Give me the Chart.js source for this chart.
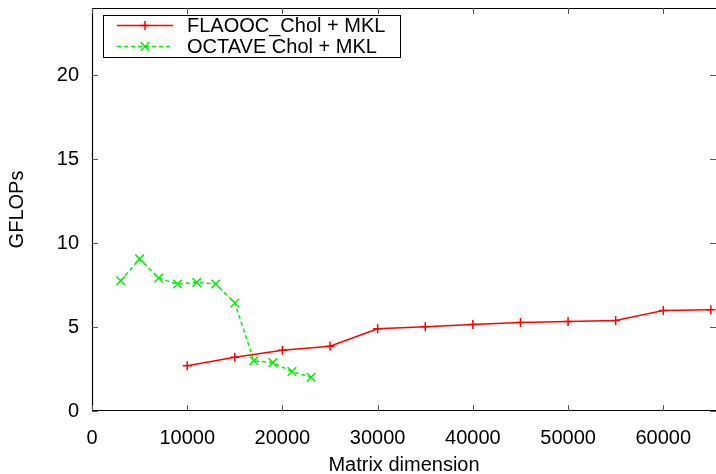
<!DOCTYPE html>
<html>
<head>
<meta charset="utf-8">
<script src="https://cdn.jsdelivr.net/npm/chart.js@4.4.1/dist/chart.umd.min.js"></script>
<style>
  html,body{margin:0;padding:0;background:#fff;}
</style>
</head>
<body>
<canvas id="gflopsChart" width="716" height="474"></canvas>
<script>
// data
const flaoocLabel = "FLAOOC_Chol + MKL";
const flaoocSizes = [10000,15000,20000,25000,30000,35000,40000,45000,50000,55000,60000,65000];
const flaoocGflops = [2.69,3.20,3.62,3.86,4.90,5.01,5.15,5.27,5.33,5.39,5.99,6.03];

const octaveLabel = "OCTAVE Chol + MKL";
const octaveSizes = [3000,5000,7000,9000,11000,13000,15000,17000,19000,21000,23000];
const octaveGflops = [7.76,9.06,7.92,7.56,7.66,7.56,6.43,2.99,2.88,2.35,2.01];

const xTickValues = [0,10000,20000,30000,40000,50000,60000];
const yTickValues = [0,5,10,15,20];

const FONT = "'Liberation Sans', Arial, Helvetica, sans-serif";

// gnuplot style frame: border (right side runs off the canvas) + inward ticks, plus the key
const frame = {
  id: "frame",
  afterDatasetsDraw(chart){
    const {ctx, chartArea:a, scales} = chart;
    ctx.save();
    ctx.strokeStyle = "#000";
    ctx.lineWidth = 1.2;
    ctx.beginPath();
    ctx.moveTo(chart.width, a.top+0.5);
    ctx.lineTo(a.left+0.5, a.top+0.5);
    ctx.lineTo(a.left+0.5, a.bottom-0.5);
    ctx.lineTo(chart.width, a.bottom-0.5);
    ctx.stroke();
    ctx.strokeStyle = "#555";
    ctx.lineWidth = 1;
    ctx.beginPath();
    const len = 6;
    xTickValues.forEach(v => {
      const x = Math.round(scales.x.getPixelForValue(v))+0.5;
      ctx.moveTo(x, a.bottom); ctx.lineTo(x, a.bottom-len);
      ctx.moveTo(x, a.top); ctx.lineTo(x, a.top+len);
    });
    yTickValues.forEach(v => {
      const y = Math.round(scales.y.getPixelForValue(v))+0.5;
      ctx.moveTo(a.left, y); ctx.lineTo(a.left+len, y);
      ctx.moveTo(chart.width, y); ctx.lineTo(chart.width-len, y);
    });
    ctx.stroke();

    // key box
    const bx = 103.5, by = 15.5, bw = 297, bh = 42;
    ctx.fillStyle = "#fff";
    ctx.fillRect(bx, by, bw, bh);
    ctx.strokeStyle = "#000";
    ctx.strokeRect(bx, by, bw, bh);
    chart.data.datasets.forEach((d,i) => {
      const y = by + 10 + i*21;
      ctx.strokeStyle = d.borderColor;
      ctx.lineWidth = d.borderWidth;
      ctx.setLineDash(d.borderDash || []);
      ctx.beginPath();
      ctx.moveTo(117, y); ctx.lineTo(173, y);
      ctx.stroke();
      ctx.setLineDash([]);
      Chart.helpers.drawPoint(ctx, {
        pointStyle: d.pointStyle, radius: d.pointRadius, rotation: 0,
        borderWidth: d.borderWidth
      }, 145, y);
      ctx.fillStyle = "#000";
      ctx.font = "20px " + FONT;
      ctx.textBaseline = "middle";
      ctx.textAlign = "left";
      ctx.fillText(d.label, 187, y + 1);
    });
    ctx.restore();
  }
};

new Chart(document.getElementById("gflopsChart").getContext("2d"), {
  type: "line",
  data: {
    datasets: [
      {
        label: flaoocLabel,
        data: flaoocSizes.map((s,i) => ({x:s, y:flaoocGflops[i]})),
        borderColor: "#ff0000",
        backgroundColor: "#ff0000",
        borderWidth: 1.5,
        pointStyle: "cross",
        pointRadius: 4.5,
        pointBorderColor: "#ff0000",
        tension: 0,
        clip: false
      },
      {
        label: octaveLabel,
        data: octaveSizes.map((s,i) => ({x:s, y:octaveGflops[i]})),
        borderColor: "#00ee00",
        backgroundColor: "#00ee00",
        borderWidth: 1.5,
        borderDash: [4,3],
        pointStyle: "crossRot",
        pointRadius: 6,
        pointBorderColor: "#00ee00",
        tension: 0
      }
    ]
  },
  options: {
    responsive: false,
    animation: false,
    devicePixelRatio: 1,
    layout: {autoPadding: false, padding: {left: 0, right: 0, top: 8, bottom: 0}},
    plugins: {legend: {display: false}, tooltip: {enabled: false}},
    scales: {
      x: {
        type: "linear",
        min: 0,
        max: 65536,
        afterBuildTicks: s => { s.ticks = xTickValues.map(v => ({value:v})); },
        afterFit: s => { s.height = 63; s.paddingLeft = 0; s.paddingRight = 0; },
        grid: {display: false, drawTicks: false},
        border: {display: false},
        ticks: {
          color: "#000",
          padding: 15,
          maxRotation: 0,
          font: {family: FONT, size: 20},
          callback: v => String(v)
        },
        title: {
          display: true,
          text: "Matrix dimension",
          color: "#000",
          padding: {top: 0, bottom: -3},
          font: {family: FONT, size: 20}
        }
      },
      y: {
        min: 0,
        max: 24,
        afterBuildTicks: s => { s.ticks = yTickValues.map(v => ({value:v})); },
        afterFit: s => { s.width = 92; s.paddingTop = 0; s.paddingBottom = 0; },
        grid: {display: false, drawTicks: false},
        border: {display: false},
        ticks: {
          color: "#000",
          padding: 13,
          font: {family: FONT, size: 20},
          callback: v => String(v)
        },
        title: {
          display: true,
          text: "GFLOPs",
          color: "#000",
          padding: {top: 5, bottom: 0},
          font: {family: FONT, size: 20}
        }
      }
    }
  },
  plugins: [frame]
});
</script>
</body>
</html>
